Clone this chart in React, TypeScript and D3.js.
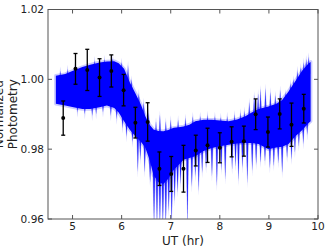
import React from "react";
import * as d3 from "d3";

// binned photometry points with error bars
const obsHours = [4.81, 5.06, 5.3, 5.55, 5.79, 6.04, 6.28, 6.53, 6.77, 7.01, 7.26, 7.51, 7.75, 8.0, 8.24, 8.49, 8.73, 8.98, 9.22, 9.46, 9.71];
const obsFlux = [0.9889, 1.003, 1.0027, 1.0005, 1.0024, 0.9969, 0.9876, 0.9878, 0.9744, 0.9729, 0.9744, 0.9796, 0.9811, 0.9804, 0.9821, 0.9823, 0.99, 0.9849, 0.9901, 0.987, 0.9916];
const obsErr = [0.0049, 0.0044, 0.0059, 0.0054, 0.0046, 0.0045, 0.0044, 0.0055, 0.0048, 0.005, 0.0067, 0.0044, 0.0049, 0.0043, 0.0043, 0.0043, 0.0044, 0.0043, 0.0043, 0.0062, 0.0041];

// dense core of the model draws
const bandHours = [4.66, 4.85, 5.02, 5.2, 5.36, 5.55, 5.7, 5.85, 5.94, 6.05, 6.17, 6.28, 6.4, 6.48, 6.57, 6.65, 6.75, 6.85, 6.95, 7.06, 7.16, 7.26, 7.38, 7.5, 7.67, 7.84, 8.0, 8.18, 8.35, 8.52, 8.65, 8.79, 8.99, 9.15, 9.27, 9.4, 9.54, 9.68, 9.81, 9.85];
const bandTop = [1.001, 1.0015, 1.0025, 1.0035, 1.0042, 1.0048, 1.0051, 1.0052, 1.0046, 1.003, 0.999, 0.996, 0.9925, 0.9895, 0.987, 0.9856, 0.9852, 0.9851, 0.9855, 0.9861, 0.9863, 0.9865, 0.987, 0.988, 0.9884, 0.9884, 0.9882, 0.988, 0.9885, 0.9894, 0.9905, 0.9915, 0.9922, 0.993, 0.9941, 0.9965, 0.9995, 1.0025, 1.0046, 1.005];
const bandBottom = [0.993, 0.9925, 0.992, 0.9915, 0.9915, 0.992, 0.9925, 0.9918, 0.9905, 0.988, 0.9855, 0.9837, 0.982, 0.9805, 0.977, 0.9725, 0.9705, 0.97, 0.9715, 0.974, 0.9755, 0.977, 0.9775, 0.978, 0.9795, 0.9803, 0.9808, 0.9813, 0.9816, 0.9818, 0.9818, 0.9815, 0.98, 0.9805, 0.9807, 0.9815, 0.9837, 0.9855, 0.9875, 0.988];

// individual draws that stick out of the core
const downSpikeHours = [5.1, 5.25, 5.4, 5.48, 5.62, 5.78, 5.9, 6.02, 6.1, 6.22, 6.33, 6.38, 6.47, 6.58, 6.66, 6.72, 6.78, 6.84, 6.9, 6.96, 7.02, 7.08, 7.14, 7.2, 7.34, 7.43, 7.5, 7.57, 7.64, 7.72, 7.84, 7.94, 8.03, 8.11, 8.25, 8.32, 8.38, 8.46, 8.56, 8.66, 8.74, 8.83, 8.92, 9.02, 9.1, 9.19, 9.27, 9.37, 9.46, 9.53, 9.61, 9.7, 9.78];
const downSpikeFlux = [0.9905, 0.99, 0.9895, 0.99, 0.9905, 0.9895, 0.9885, 0.986, 0.9835, 0.982, 0.9733, 0.977, 0.9733, 0.9704, 0.958, 0.958, 0.958, 0.958, 0.958, 0.962, 0.958, 0.965, 0.9676, 0.97, 0.958, 0.969, 0.972, 0.968, 0.9732, 0.9745, 0.9722, 0.9694, 0.974, 0.9713, 0.9741, 0.975, 0.9708, 0.9745, 0.9703, 0.9737, 0.9755, 0.9761, 0.9765, 0.9745, 0.9751, 0.976, 0.9732, 0.9775, 0.977, 0.979, 0.9808, 0.9815, 0.984];
const upSpikeHours = [4.75, 4.9, 5.05, 5.45, 5.65, 5.82, 6.0, 6.13, 6.2, 6.35, 6.45, 6.55, 6.7, 6.78, 6.9, 7.0, 7.15, 7.3, 7.45, 7.6, 7.75, 7.9, 8.02, 8.15, 8.3, 8.42, 8.5, 8.6, 8.7, 8.78, 8.83, 8.93, 9.03, 9.13, 9.23, 9.34, 9.44, 9.5, 9.58, 9.65, 9.71, 9.76, 9.81];
const upSpikeFlux = [1.0025, 1.003, 1.0038, 1.0055, 1.0058, 1.006, 1.005, 1.0041, 1.0, 0.996, 0.9935, 0.9905, 0.988, 0.9899, 0.988, 0.9885, 0.9885, 0.989, 0.9895, 0.9895, 0.9898, 0.9895, 0.9892, 0.9895, 0.99, 0.9905, 0.991, 0.9935, 0.9955, 0.996, 0.9972, 0.9975, 0.9965, 0.9955, 0.997, 0.996, 0.9989, 1.0, 1.0027, 1.0035, 1.005, 1.0058, 1.0065];

const xTicks = [5, 6, 7, 8, 9, 10];
const yTicks = [0.96, 0.98, 1.0, 1.02];

const W = 329;
const H = 252;
const L = 48, R = 318, T = 9.5, B = 219;
const BLUE = "#0000ff";

const App = () => {
  const x = d3.scaleLinear().domain([4.5, 10]).range([L, R]);
  const y = d3.scaleLinear().domain([0.96, 1.02]).range([B, T]);

  const band = bandHours.map((h, i) => ({ h, top: bandTop[i], bot: bandBottom[i] }));
  const area = d3
    .area<{ h: number; top: number; bot: number }>()
    .x((d) => x(d.h))
    .y0((d) => y(d.bot))
    .y1((d) => y(d.top));
  const topAt = d3.scaleLinear().domain(bandHours).range(bandTop).clamp(true);
  const botAt = d3.scaleLinear().domain(bandHours).range(bandBottom).clamp(true);

  const spike = (h: number, from: number, to: number, w: number) => {
    const px = x(h);
    return `M${px - w},${y(from)}L${px + w},${y(from)}L${px},${y(to)}Z`;
  };

  const font = "'DejaVu Sans', sans-serif";

  return (
    <svg width={W} height={H} style={{ position: "absolute", left: 0, top: 0, background: "#fff" }}>
      <defs>
        <clipPath id="plot">
          <rect x={L} y={T} width={R - L} height={B - T} />
        </clipPath>
      </defs>
      <rect width={W} height={H} fill="#fff" />
      <g clipPath="url(#plot)">
        {/* faint fringe of the draws */}
        <path d={area(band) ?? ""} fill={BLUE} opacity={0.2} stroke={BLUE} strokeWidth={3.5} strokeLinejoin="round" />
        {downSpikeHours.map((h, i) => (
          <path key={"dw" + i} d={spike(h, botAt(h) + 0.003, downSpikeFlux[i] - 0.0015, 2)} fill={BLUE} opacity={0.2} />
        ))}
        {upSpikeHours.map((h, i) => (
          <path key={"uw" + i} d={spike(h, topAt(h) - 0.003, upSpikeFlux[i] + 0.0012, 2)} fill={BLUE} opacity={0.2} />
        ))}
        <path d={area(band) ?? ""} fill={BLUE} />
        {downSpikeHours.map((h, i) => (
          <path key={"d" + i} d={spike(h, botAt(h) + 0.002, downSpikeFlux[i], 1.1)} fill={BLUE} opacity={0.85} />
        ))}
        {upSpikeHours.map((h, i) => (
          <path key={"u" + i} d={spike(h, topAt(h) - 0.002, upSpikeFlux[i], 1.1)} fill={BLUE} opacity={0.75} />
        ))}
      </g>
      {/* error bars */}
      <g stroke="#000" strokeWidth={1.3}>
        {obsHours.map((h, i) => {
          const px = x(h);
          const y0 = y(obsFlux[i] - obsErr[i]);
          const y1 = y(obsFlux[i] + obsErr[i]);
          return (
            <g key={"e" + i}>
              <line x1={px} x2={px} y1={y0} y2={y1} />
              <line x1={px - 2} x2={px + 2} y1={y0} y2={y0} />
              <line x1={px - 2} x2={px + 2} y1={y1} y2={y1} />
            </g>
          );
        })}
      </g>
      {obsHours.map((h, i) => (
        <circle key={"p" + i} cx={x(h)} cy={y(obsFlux[i])} r={2} fill="#000" />
      ))}
      {/* frame and inward ticks */}
      <rect x={L} y={T} width={R - L} height={B - T} fill="none" stroke="#555" strokeWidth={1} />
      <g stroke="#555" strokeWidth={1}>
        {xTicks.map((t) => (
          <g key={"xt" + t}>
            <line x1={x(t)} x2={x(t)} y1={B} y2={B - 4} />
            <line x1={x(t)} x2={x(t)} y1={T} y2={T + 4} />
          </g>
        ))}
        {yTicks.map((t) => (
          <g key={"yt" + t}>
            <line x1={L} x2={L + 4} y1={y(t)} y2={y(t)} />
            <line x1={R} x2={R - 4} y1={y(t)} y2={y(t)} />
          </g>
        ))}
      </g>
      <g fontFamily={font} fontSize={10.5} fill="#222">
        {xTicks.map((t) => (
          <text key={"xl" + t} x={x(t)} y={230} textAnchor="middle">
            {t}
          </text>
        ))}
        {yTicks.map((t) => (
          <text key={"yl" + t} x={44} y={y(t) + 3.8} textAnchor="end">
            {t.toFixed(2)}
          </text>
        ))}
      </g>
      <text x={183} y={245} textAnchor="middle" fontFamily={font} fontSize={12} fill="#222">
        UT (hr)
      </text>
      <text transform={`translate(17,${(T + B) / 2}) rotate(-90)`} textAnchor="middle" fontFamily={font} fontSize={12} fill="#222">
        <tspan x={0} dy={-14}>Normalized</tspan>
        <tspan x={0} dy={14}>Photometry</tspan>
      </text>
    </svg>
  );
};

export default App;
